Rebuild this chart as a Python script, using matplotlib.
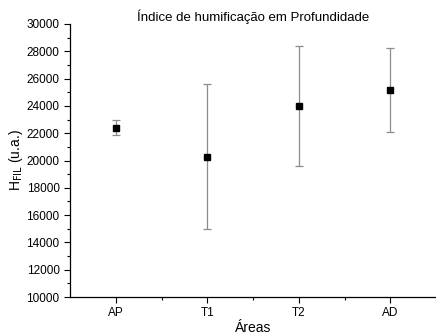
import matplotlib
matplotlib.use("Agg")
import matplotlib.pyplot as plt
from matplotlib.ticker import MultipleLocator

plt.rcParams['font.family'] = ['Liberation Sans', 'DejaVu Sans']

categories = ["AP", "T1", "T2", "AD"]
means = [22380, 20280, 24000, 25180]
err_low = [21850, 14980, 19600, 22080]
err_high = [22950, 25600, 28400, 28250]

fig = plt.figure(figsize=(4.36, 3.36), dpi=100)
ax = fig.add_axes([70/436, 39/336, 366/436, 273/336])

x = list(range(1, len(categories) + 1))
yerr = [[m - l for m, l in zip(means, err_low)], [h - m for m, h in zip(means, err_high)]]
ax.errorbar(x, means, yerr=yerr, fmt='s', color='black', ms=5,
            ecolor='#8c8c8c', elinewidth=0.9, capsize=3, capthick=0.9)

ax.set_xlim(0.5, 4.5)
ax.set_ylim(10000, 30000)
ax.set_xticks(x)
ax.set_xticklabels(categories)
ax.set_xticks([1.5, 2.5, 3.5, 4.5], minor=True)
ax.yaxis.set_major_locator(MultipleLocator(2000))
ax.yaxis.set_minor_locator(MultipleLocator(1000))
ax.tick_params(which='major', direction='out', length=4, width=0.8, labelsize=8.5)
ax.tick_params(which='minor', direction='out', length=2.5, width=0.8)
for s in ['top', 'right']:
    ax.spines[s].set_visible(False)
for s in ['left', 'bottom']:
    ax.spines[s].set_linewidth(0.9)

ax.set_title("Índice de humificação em Profundidade", fontsize=9.5, pad=1)
ax.set_xlabel("Áreas", fontsize=10, labelpad=1)
ax.set_ylabel(r"H$_{\mathrm{FIL}}$ (u.a.)", fontsize=10)
ax.yaxis.set_label_coords(-0.122, 0.5)

fig.savefig("out.png", dpi=100)
